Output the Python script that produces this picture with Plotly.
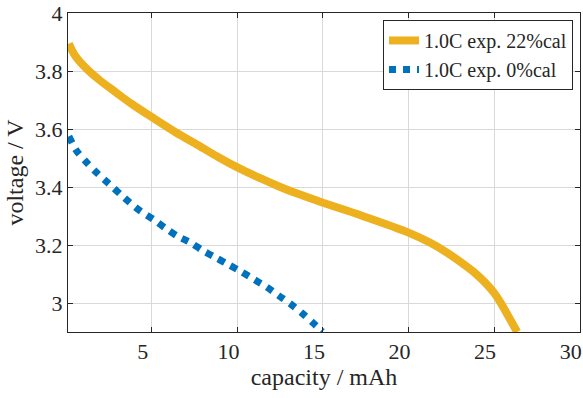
import plotly.graph_objects as go

# Yellow series: 1.0C exp. 22%cal
cap_22 = [0.15, 0.54, 1.12, 1.9, 2.87, 3.84, 5.0, 6.36, 7.71, 8.87, 10.0, 11.43, 12.4, 13.37, 15.0, 17.24, 20.0, 21.3, 22.29, 23.26, 23.87, 24.45, 25.0, 25.35, 25.8, 26.35]
volt_22 = [3.895, 3.851, 3.812, 3.771, 3.728, 3.686, 3.641, 3.590, 3.544, 3.504, 3.468, 3.428, 3.403, 3.380, 3.346, 3.302, 3.243, 3.207, 3.172, 3.132, 3.104, 3.072, 3.035, 3.004, 2.958, 2.900]

# Blue series: 1.0C exp. 0%cal
cap_0 = [0.15, 0.58, 1.16, 1.78, 2.42, 3.68, 4.36, 5.08, 5.77, 6.49, 7.27, 7.94, 8.72, 9.49, 10.23, 11.01, 11.72, 12.4, 13.12, 13.8, 14.44, 14.96]
volt_0 = [3.575, 3.527, 3.487, 3.449, 3.415, 3.348, 3.316, 3.289, 3.259, 3.231, 3.208, 3.182, 3.157, 3.132, 3.108, 3.08, 3.055, 3.026, 2.996, 2.964, 2.93, 2.901]

x_ticks = [5, 10, 15, 20, 25, 30]
y_ticks = [3.0, 3.2, 3.4, 3.6, 3.8, 4.0]
y_tick_text = ["3", "3.2", "3.4", "3.6", "3.8", "4"]

FONT = "Liberation Serif"
TXT = "#262626"

fig = go.Figure()
fig.add_trace(go.Scatter(x=cap_22, y=volt_22, mode="lines", name="1.0C exp. 22%cal",
                         line=dict(color="#EDB120", width=8, shape="spline", smoothing=1.0)))
fig.add_trace(go.Scatter(x=cap_0, y=volt_0, mode="lines", name="1.0C exp. 0%cal",
                         line=dict(color="#0072BD", width=7, dash="dot", shape="spline", smoothing=0.8)))

fig.update_layout(
    width=583, height=398,
    margin=dict(l=68, r=1, t=10, b=66),
    paper_bgcolor="white", plot_bgcolor="white",
    font=dict(family=FONT, color=TXT, size=22),
    legend=dict(x=1 - 7/514, y=1 - 7/321, xanchor="right", yanchor="top",
                font=dict(size=20, family=FONT, color=TXT),
                bgcolor="white", bordercolor=TXT, borderwidth=1,
                itemwidth=30, tracegroupgap=0),
)
fig.update_xaxes(
    range=[0.1, 30.02], tickmode="array", tickvals=x_ticks,
    showline=True, linecolor=TXT, linewidth=1, mirror="ticks",
    ticks="inside", ticklen=5, tickcolor=TXT,
    showgrid=True, gridcolor="#d9d9d9", gridwidth=1, zeroline=False,
    tickfont=dict(size=22, family=FONT, color=TXT), ticklabelshift=-9,
    ticklabeloverflow="allow",
    title=dict(text="capacity / mAh", font=dict(size=24, family=FONT, color=TXT), standoff=3),
)
fig.update_yaxes(
    range=[2.9, 4.0005], tickmode="array", tickvals=y_ticks, ticktext=y_tick_text,
    showline=True, linecolor=TXT, linewidth=1, mirror="ticks",
    ticks="inside", ticklen=5, tickcolor=TXT,
    showgrid=True, gridcolor="#d9d9d9", gridwidth=1, zeroline=False,
    tickfont=dict(size=22, family=FONT, color=TXT),
    ticklabeloverflow="allow",
    title=dict(text="voltage / V", font=dict(size=24, family=FONT, color=TXT), standoff=4),
)

fig.write_html("out.html")
